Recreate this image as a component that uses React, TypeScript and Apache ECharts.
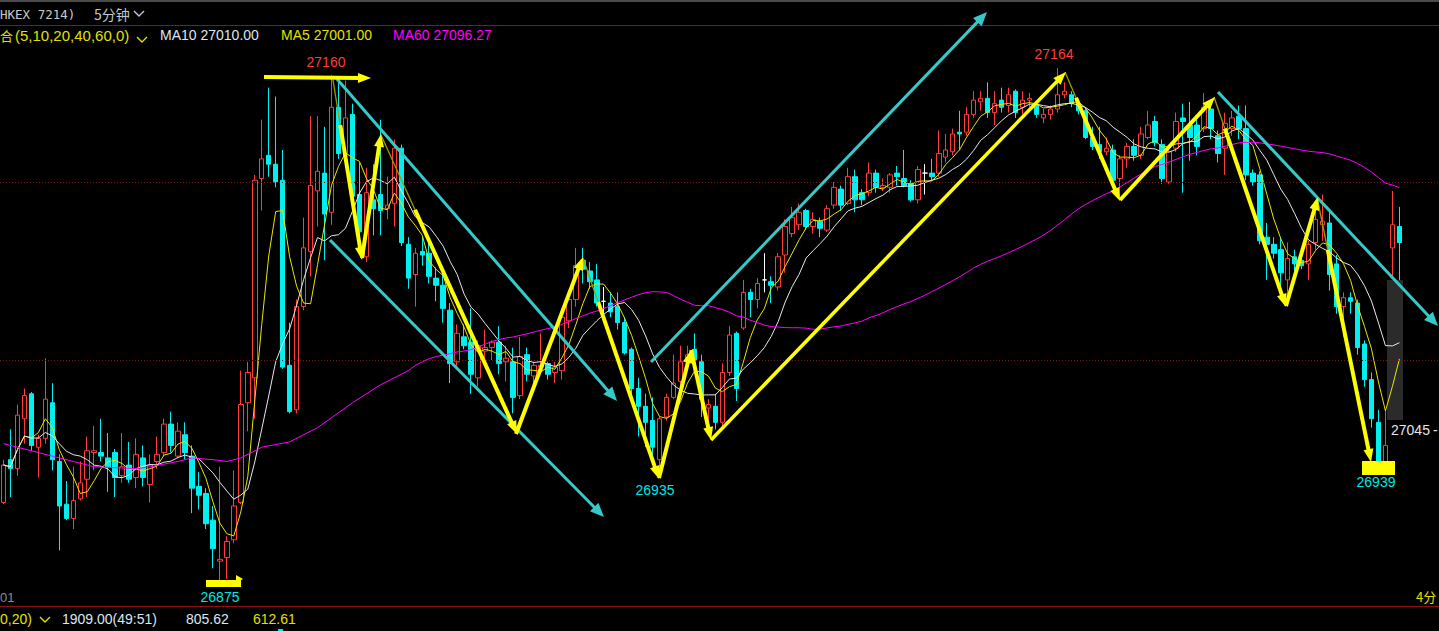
import React, { useEffect, useRef } from "react";
import * as echarts from "echarts";

// ---- candle data (5-minute bars) ----
const opens = [
  26920, 26944, 26939, 26967, 26981, 26951, 26956, 26976, 26943, 26919,
  26911, 26922, 26933, 26948, 26948, 26945, 26948, 26935, 26941, 26934,
  26945, 26930, 26943, 26948, 26964, 26946, 26958, 26946, 26929, 26925,
  26910, 26887, 26889, 26899, 26920, 26976, 26990, 27102, 27115, 27110,
  27101, 26997, 26972, 27030, 27061, 27095, 27105, 27083, 27142, 27116,
  27138, 27093, 27058, 27090, 27093, 27085, 27088, 27119, 27065, 27048,
  27061, 27060, 27046, 27042, 27028, 26999, 27013, 27010, 26990, 27005,
  27007, 27010, 26999, 26999, 26980, 27003, 26991, 26996, 26998, 26993,
  26994, 27022, 27034, 27056, 27050, 27045, 27033, 27032, 27030, 27021,
  27006, 26984, 26974, 26966, 26944, 26968, 26979, 26988, 26999, 27006,
  26999, 26973, 26974, 26965, 26993, 27015, 27018, 27038, 27034, 27045,
  27044, 27041, 27059, 27071, 27076, 27084, 27075, 27078, 27073, 27087,
  27096, 27088, 27103, 27094, 27094, 27105, 27097, 27097, 27105, 27102,
  27099, 27090, 27105, 27105, 27105, 27114, 27117, 27128, 27128, 27138,
  27145, 27147, 27139, 27146, 27143, 27151, 27142, 27146, 27143, 27136,
  27138, 27141, 27149, 27149, 27144, 27140, 27125, 27121, 27117, 27118,
  27102, 27113, 27120, 27115, 27125, 27134, 27121, 27100, 27119, 27136,
  27132, 27132, 27130, 27141, 27126, 27119, 27130, 27137, 27130, 27105,
  27104, 27069, 27065, 27062, 27045, 27058, 27056, 27054, 27066, 27076,
  27077, 27054, 27030, 27035, 27032, 27009, 26989, 26965, 26942, 27063,
  27075,
];
const closes = [
  26941, 26939, 26969, 26980, 26952, 26956, 26978, 26944, 26918, 26911,
  26921, 26931, 26949, 26949, 26946, 26940, 26934, 26940, 26933, 26947,
  26934, 26941, 26947, 26964, 26952, 26960, 26948, 26928, 26924, 26908,
  26894, 26888, 26898, 26918, 26975, 26993, 27101, 27113, 27110, 27100,
  26996, 26971, 27030, 27063, 27098, 27106, 27082, 27142, 27116, 27136,
  27092, 27072, 27094, 27085, 27084, 27087, 27119, 27066, 27046, 27060,
  27059, 27047, 27042, 27029, 26998, 27015, 27008, 26992, 27008, 27007,
  27010, 26998, 27001, 26979, 27002, 26992, 26997, 26997, 26992, 26996,
  27024, 27034, 27053, 27051, 27044, 27032, 27033, 27027, 27021, 27004,
  26984, 26974, 26965, 26951, 26967, 26979, 26987, 26999, 27003, 27000,
  26978, 26975, 26965, 26993, 27014, 26984, 27038, 27034, 27043, 27045,
  27042, 27058, 27075, 27080, 27083, 27075, 27079, 27074, 27085, 27097,
  27087, 27103, 27090, 27090, 27105, 27097, 27098, 27104, 27103, 27098,
  27090, 27107, 27105, 27103, 27116, 27118, 27127, 27127, 27138, 27146,
  27147, 27139, 27144, 27142, 27149, 27139, 27146, 27147, 27138, 27138,
  27141, 27149, 27151, 27144, 27140, 27125, 27120, 27117, 27119, 27101,
  27113, 27120, 27115, 27127, 27132, 27122, 27102, 27117, 27134, 27134,
  27125, 27120, 27142, 27130, 27116, 27133, 27136, 27130, 27104, 27100,
  27067, 27065, 27060, 27049, 27057, 27054, 27053, 27065, 27079, 27078,
  27048, 27030, 27035, 27033, 27007, 26989, 26967, 26942, 26952, 27076,
  27066,
];
const lows = [
  26919, 26923, 26935, 26953, 26949, 26934, 26953, 26938, 26893, 26910,
  26905, 26921, 26923, 26938, 26943, 26926, 26923, 26931, 26931, 26928,
  26929, 26920, 26939, 26946, 26948, 26945, 26944, 26914, 26916, 26905,
  26883, 26875, 26877, 26897, 26919, 26960, 26967, 27084, 27103, 27097,
  26995, 26970, 26970, 27028, 27047, 27075, 27056, 27076, 27113, 27112,
  27086, 27060, 27055, 27070, 27070, 27079, 27075, 27064, 27040, 27030,
  27053, 27043, 27033, 27021, 26987, 26996, 27006, 26981, 26985, 26996,
  27000, 26992, 26988, 26970, 26978, 26988, 26985, 26992, 26989, 26987,
  26989, 27018, 27030, 27043, 27040, 27030, 27026, 27024, 27017, 27003,
  26979, 26957, 26951, 26944, 26935, 26966, 26978, 26986, 26994, 26996,
  26968, 26958, 26961, 26962, 26991, 26977, 27017, 27024, 27029, 27038,
  27032, 27039, 27049, 27069, 27073, 27073, 27071, 27069, 27072, 27085,
  27084, 27087, 27083, 27087, 27092, 27094, 27095, 27094, 27098, 27097,
  27089, 27088, 27093, 27101, 27103, 27111, 27115, 27118, 27126, 27136,
  27140, 27136, 27132, 27139, 27139, 27136, 27138, 27142, 27136, 27133,
  27135, 27139, 27147, 27142, 27138, 27124, 27118, 27113, 27115, 27098,
  27097, 27108, 27112, 27113, 27124, 27120, 27099, 27099, 27117, 27094,
  27112, 27115, 27128, 27124, 27111, 27104, 27126, 27124, 27101, 27098,
  27065, 27045, 27057, 27041, 27030, 27045, 27051, 27045, 27062, 27067,
  27039, 27026, 27013, 27026, 27003, 26985, 26962, 26939, 26939, 27047,
  27045,
];
const highs = [
  26944, 26961, 26975, 26984, 26982, 26958, 27001, 26987, 26947, 26932,
  26940, 26943, 26957, 26963, 26967, 26959, 26950, 26959, 26954, 26956,
  26952, 26947, 26957, 26967, 26971, 26965, 26965, 26952, 26937, 26928,
  26918, 26940, 26901, 26938, 26994, 26999, 27104, 27135, 27153, 27148,
  27118, 27021, 27034, 27080, 27137, 27137, 27131, 27160, 27158, 27157,
  27144, 27111, 27108, 27110, 27135, 27103, 27124, 27121, 27069, 27063,
  27069, 27068, 27052, 27049, 27032, 27020, 27020, 27029, 27011, 27017,
  27011, 27019, 27008, 27007, 27013, 27007, 26999, 27015, 26999, 26999,
  27028, 27038, 27063, 27063, 27055, 27054, 27041, 27038, 27038, 27024,
  27007, 26990, 26981, 26979, 26968, 26981, 27003, 27008, 27008, 27015,
  27003, 26978, 26981, 26998, 27019, 27016, 27045, 27040, 27046, 27060,
  27047, 27060, 27079, 27086, 27088, 27085, 27083, 27080, 27087, 27100,
  27098, 27108, 27107, 27096, 27111, 27107, 27102, 27105, 27109, 27118,
  27101, 27109, 27110, 27113, 27129, 27127, 27130, 27140, 27142, 27151,
  27151, 27156, 27151, 27153, 27153, 27152, 27151, 27150, 27145, 27141,
  27143, 27164, 27156, 27151, 27146, 27142, 27131, 27131, 27125, 27121,
  27115, 27122, 27124, 27131, 27140, 27137, 27124, 27120, 27139, 27144,
  27145, 27135, 27150, 27143, 27129, 27139, 27140, 27143, 27143, 27107,
  27106, 27077, 27069, 27069, 27066, 27062, 27059, 27067, 27090, 27093,
  27083, 27059, 27038, 27038, 27034, 27011, 26993, 26972, 26972, 27095,
  27086,
];

// MA60 before a full 60-bar window exists
const ma60EarlyIdx = [0, 5, 10, 13, 19, 21, 25, 27, 30, 32, 34, 37, 41, 45, 50, 54, 58];
const ma60EarlyVal = [26953, 26948, 26943, 26940, 26939, 26940, 26943, 26945, 26944, 26943, 26945, 26951, 26954, 26962, 26976, 26986, 26994];

// price grid levels (dotted)
const gridLevels = [27000, 27100];

// labels
const peakLabels = [
  { text: "27160", color: "#ff3c3c" },
  { text: "27164", color: "#ff3c3c" },
  { text: "26935", color: "#00e6e6" },
  { text: "26875", color: "#00e6e6" },
  { text: "26939", color: "#00e6e6" },
];
const maLegend = ["MA10 27010.00", "MA5 27001.00", "MA60 27096.27"];
const bottomValues = ["1909.00(49:51)", "805.62", "612.61"];

const EXTRA = 5;

function movingAvg(n: number) {
  return closes.map((_, i) => {
    const s = Math.max(0, i - n + 1);
    let sum = 0;
    for (let j = s; j <= i; j++) sum += closes[j];
    return +(sum / (i - s + 1)).toFixed(2);
  });
}

function ma60Series() {
  const out: (number | null)[] = closes.map(() => null);
  ma60EarlyIdx.forEach((idx, k) => (out[idx] = ma60EarlyVal[k]));
  for (let i = 59; i < closes.length; i++) {
    let s = 0;
    for (let j = i - 59; j <= i; j++) s += closes[j];
    out[i] = +(s / 60).toFixed(2);
  }
  return out;
}

function arrow(
  x1: number, y1: number, x2: number, y2: number,
  color: string, w: number,
  opts: { head?: number; hw?: number; lead?: number; leadColor?: string } = {}
) {
  const { head = 13, hw = 10, lead = 0, leadColor = "#a09a00" } = opts;
  const dx = x2 - x1, dy = y2 - y1;
  const L = Math.hypot(dx, dy);
  const ux = dx / L, uy = dy / L;
  const bx = x2 - ux * head, by = y2 - uy * head;
  const nx = -uy, ny = ux;
  const sx = x1 + dx * lead, sy = y1 + dy * lead;
  const els: any[] = [];
  if (lead > 0) {
    els.push({ type: "line", z: 100, shape: { x1, y1, x2: sx, y2: sy }, style: { stroke: leadColor, lineWidth: 1.3 } });
  }
  els.push({
    type: "line", z: 100,
    shape: { x1: sx, y1: sy, x2: bx + ux * 2, y2: by + uy * 2 },
    style: { stroke: color, lineWidth: w },
  });
  els.push({
    type: "polygon", z: 101,
    shape: { points: [[x2, y2], [bx + (nx * hw) / 2, by + (ny * hw) / 2], [bx - (nx * hw) / 2, by - (ny * hw) / 2]] },
    style: { fill: color },
  });
  return els;
}

function chevron(x: number, y: number, color: string) {
  return {
    type: "polyline", z: 100,
    shape: { points: [[x, y], [x + 5, y + 5], [x + 10, y]] },
    style: { stroke: color, lineWidth: 1.4, fill: null },
  };
}

function txt(text: string, x: number, y: number, fill: string, font = '14px "Liberation Sans"', align = "left") {
  return { type: "text", z: 110, x, y, style: { text, fill, font, align, verticalAlign: "middle" } };
}

export default function App() {
  const ref = useRef<HTMLDivElement>(null);
  useEffect(() => {
    if (!ref.current) return;
    const chart = echarts.init(ref.current, undefined, { renderer: "svg" });
    const n = opens.length;
    const cats = Array.from({ length: n + EXTRA }, (_, i) => String(i));
    const kData = opens.map((o, i) => [o, closes[i], lows[i], highs[i]]);
    const ma5 = movingAvg(5);
    const ma10 = movingAvg(10);
    const ma60 = ma60Series();

    const YEL = "#ffff00";
    const CY = "#35c9c9";
    const LABEL_FONT = '14px "Liberation Sans"';
    const graphic: any[] = [
      // top bar and frame lines
      { type: "rect", z: 1, shape: { x: 0, y: 0, width: 1439, height: 2 }, style: { fill: "#4a4a4a" } },
      { type: "line", z: 1, shape: { x1: 0, y1: 25.5, x2: 1439, y2: 25.5 }, style: { stroke: "#8e1414", lineWidth: 1 } },
      { type: "line", z: 1, shape: { x1: 0, y1: 606.5, x2: 1439, y2: 606.5 }, style: { stroke: "#8e1414", lineWidth: 1 } },
      // highlighted current bar column
      { type: "rect", z: 1, shape: { x: 1387, y: 280, width: 16, height: 140 }, style: { fill: "#2b2b2b" } },
      // header
      txt("HKEX 7214)", 0, 14, "#c8c8c8", '12.5px "DejaVu Sans Mono"'),
      txt("5分钟", 94, 14, "#c8c8c8", '14px "Noto Sans CJK SC"'),
      chevron(134, 11, "#c8c8c8"),
      txt("合", 0, 35, "#e0e000", '13px "Noto Sans CJK SC"'),
      txt("(5,10,20,40,60,0)", 15, 35, "#e0e000", '15px "Liberation Sans"'),
      chevron(137, 37, "#e0e000"),
      txt(maLegend[0], 160, 35, "#dce6f2"),
      txt(maLegend[1], 281, 35, "#e0e000"),
      txt(maLegend[2], 393, 35, "#ff00ff"),
      // bottom
      txt("01", 0, 597, "#8c8c8c", '13px "Liberation Sans"'),
      txt("4分", 1416, 596, "#e0e000", '13px "Noto Sans CJK SC"'),
      txt("0,20)", 0, 619, "#e0e000"),
      chevron(40, 617, "#e0e000"),
      txt(bottomValues[0], 62, 619, "#dce6f2"),
      txt(bottomValues[1], 186, 619, "#dce6f2"),
      txt(bottomValues[2], 253, 619, "#e0e000"),
      { type: "rect", z: 1, shape: { x: 278, y: 629, width: 5, height: 2 }, style: { fill: "#00e6e6" } },
      // yellow markers
      { type: "rect", z: 99, shape: { x: 206, y: 580, width: 35, height: 7 }, style: { fill: YEL } },
      { type: "polygon", z: 99, shape: { points: [[236, 575], [243, 579], [236, 583]] }, style: { fill: YEL } },
      { type: "rect", z: 99, shape: { x: 1362, y: 461, width: 33, height: 14 }, style: { fill: YEL } },
      // peak / trough labels
      txt(peakLabels[0].text, 326, 62, peakLabels[0].color, LABEL_FONT, "center"),
      txt(peakLabels[1].text, 1054, 54, peakLabels[1].color, LABEL_FONT, "center"),
      txt(peakLabels[2].text, 655, 490, peakLabels[2].color, LABEL_FONT, "center"),
      txt(peakLabels[3].text, 220, 597, peakLabels[3].color, LABEL_FONT, "center"),
      txt(peakLabels[4].text, 1376, 482, peakLabels[4].color, LABEL_FONT, "center"),
      txt("27045", 1391, 430, "#e6e6e6", LABEL_FONT),
      txt("-", 1433, 430, "#e6e6e6", LABEL_FONT),
      // cyan trend channels
      ...arrow(337, 79, 617, 401, CY, 3, { head: 14, hw: 12 }),
      ...arrow(330, 240, 604, 517, CY, 3, { head: 14, hw: 12 }),
      ...arrow(651, 362, 987, 12, CY, 3, { head: 14, hw: 12 }),
      ...arrow(1218, 92, 1438, 326, CY, 3, { head: 14, hw: 12 }),
      // yellow swing arrows
      ...arrow(264, 77, 371, 78, YEL, 4),
      ...arrow(333, 80, 362, 260, YEL, 4, { lead: 0.25 }),
      ...arrow(362, 258, 381, 134, YEL, 4),
      ...arrow(381, 135, 517, 434, YEL, 4, { lead: 0.25 }),
      ...arrow(516, 434, 583, 257, YEL, 4),
      ...arrow(583, 258, 659, 479, YEL, 4, { lead: 0.2 }),
      ...arrow(659, 478, 691, 350, YEL, 4),
      ...arrow(691, 350, 711, 440, YEL, 4),
      ...arrow(711, 440, 1066, 72, YEL, 3.5),
      ...arrow(1065, 72, 1120, 201, YEL, 4, { lead: 0.2 }),
      ...arrow(1120, 200, 1215, 97, YEL, 4),
      ...arrow(1214, 97, 1286, 307, YEL, 4, { lead: 0.15 }),
      ...arrow(1286, 306, 1318, 197, YEL, 4),
      ...arrow(1317, 197, 1371, 462, YEL, 4, { lead: 0.2 }),
    ];

    chart.setOption({
      animation: false,
      backgroundColor: "#000000",
      grid: { left: -4.2, top: 39.6, width: 1442, height: 569.6 },
      xAxis: { type: "category", data: cats, boundaryGap: true, show: false },
      yAxis: { type: "value", min: 26860, max: 27180, show: false },
      series: [
        {
          type: "candlestick",
          data: kData,
          barWidth: 5,
          z: 2,
          itemStyle: {
            color: "rgba(0,0,0,0)",
            color0: "#00f0f0",
            borderColor: "#ff3c3c",
            borderColor0: "#00f0f0",
            borderColorDoji: "#ffffff",
            borderWidth: 1,
          },
          markLine: {
            silent: true,
            symbol: ["none", "none"],
            label: { show: false },
            lineStyle: { color: "#7a1616", type: [1, 2], width: 1 },
            data: gridLevels.map((v) => ({ yAxis: v })),
          },
        },
        { type: "line", data: ma5, symbol: "none", z: 3, lineStyle: { color: "#e6e600", width: 1 } },
        { type: "line", data: ma10, symbol: "none", z: 3, lineStyle: { color: "#e8e8e8", width: 1 } },
        { type: "line", data: ma60, symbol: "none", z: 3, connectNulls: true, lineStyle: { color: "#ff00ff", width: 1 } },
      ],
      graphic,
    });
    return () => chart.dispose();
  }, []);
  return (
    <div
      ref={ref}
      style={{ position: "fixed", left: 0, top: 0, width: 1439, height: 631, background: "#000" }}
    />
  );
}
